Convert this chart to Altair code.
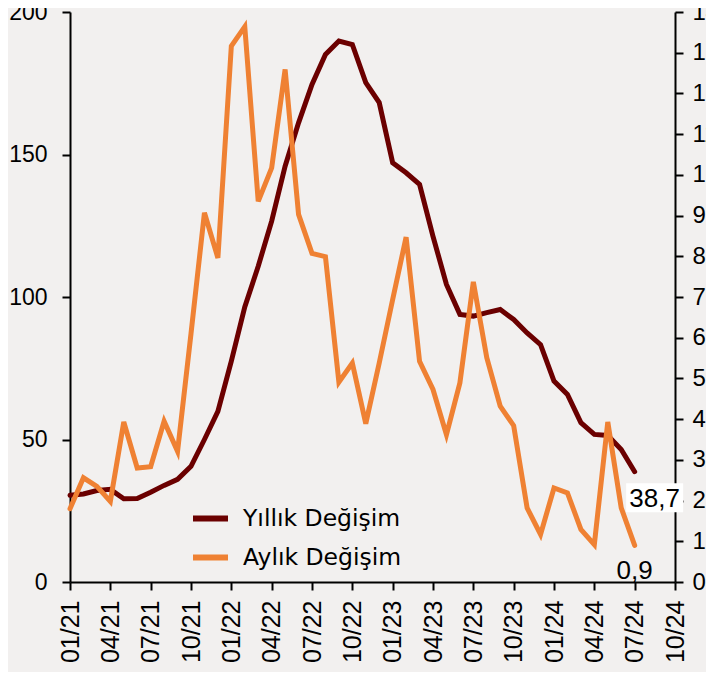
import json
import altair as alt
import pandas as pd

# ---- data ----
months = [
    "01/21", "02/21", "03/21", "04/21", "05/21", "06/21", "07/21", "08/21", "09/21", "10/21", "11/21", "12/21",
    "01/22", "02/22", "03/22", "04/22", "05/22", "06/22", "07/22", "08/22", "09/22", "10/22", "11/22", "12/22",
    "01/23", "02/23", "03/23", "04/23", "05/23", "06/23", "07/23", "08/23", "09/23", "10/23", "11/23", "12/23",
    "01/24", "02/24", "03/24", "04/24", "05/24", "06/24", "07/24",
]
annual = [30.4, 30.9, 32.1, 32.5, 29.2, 29.3, 31.5, 33.9, 36.0, 40.6, 50.0, 59.9,
          77.5, 96.5, 110.8, 126.6, 145.9, 161.1, 174.6, 185.1, 189.8, 188.6, 175.2, 168.2,
          147.1, 143.6, 139.5, 121.3, 104.4, 93.9, 93.3, 94.5, 95.6, 92.1, 87.4, 83.3,
          70.5, 65.8, 55.9, 51.8, 51.4, 46.5, 38.7]
monthly = [1.80, 2.56, 2.35, 1.98, 3.93, 2.80, 2.83, 3.95, 3.21, 6.10, 9.07, 7.96,
           13.16, 13.64, 9.35, 10.17, 12.59, 9.03, 8.07, 7.99, 4.91, 5.38, 3.89, 5.38,
           6.94, 8.47, 5.42, 4.73, 3.62, 4.89, 7.37, 5.51, 4.32, 3.84, 1.82, 1.17,
           2.31, 2.19, 1.29, 0.92, 3.93, 1.82, 0.90]
tick_labels = ["01/21", "04/21", "07/21", "10/21", "01/22", "04/22", "07/22", "10/22",
               "01/23", "04/23", "07/23", "10/23", "01/24", "04/24", "07/24", "10/24"]
series_names = ["Yıllık Değişim", "Aylık Değişim"]
series_colors = ["#6B0000", "#EF8133"]
left_ticks = [0, 50, 100, 150, 200]
right_ticks = list(range(0, 15))

AXIS_FONT = "Liberation Sans"
LEGEND_FONT = "DejaVu Sans"

rows = []
for i, m in enumerate(months):
    rows.append({"idx": i, "month": m, "series": series_names[0], "value": annual[i]})
    rows.append({"idx": i, "month": m, "series": series_names[1], "value": monthly[i]})
df = pd.DataFrame(rows)

last_df = pd.DataFrame([
    {"idx": len(months) - 1, "series": series_names[0], "value": annual[-1],
     "label": f"{annual[-1]}".replace(".", ",")},
    {"idx": len(months) - 1, "series": series_names[1], "value": monthly[-1],
     "label": f"{monthly[-1]}".replace(".", ",")},
])

n_ticks = len(tick_labels)
x_enc = alt.X(
    "idx:Q",
    scale=alt.Scale(domain=[0, (n_ticks - 1) * 3], nice=False, zero=False),
    axis=alt.Axis(
        values=[k * 3 for k in range(n_ticks)],
        labelExpr=json.dumps(tick_labels) + "[round(datum.value / 3)]",
        labelAngle=-90, labelFontSize=25, labelPadding=10, title=None,
        tickSize=8, labelBound=False, labelOverlap=False, labelFlush=False,
    ),
)

y_left = alt.Y(
    "value:Q",
    scale=alt.Scale(domain=[0, 200], nice=False),
    axis=alt.Axis(orient="left", values=left_ticks, title=None, tickSize=8,
                  labelPadding=15, labelFontSize=23),
)
y_right = alt.Y(
    "value:Q",
    scale=alt.Scale(domain=[0, 14], nice=False),
    axis=alt.Axis(orient="right", values=right_ticks, title=None, tickSize=8,
                  labelPadding=9, labelFontSize=24),
)

color_enc = alt.Color(
    "series:N",
    scale=alt.Scale(domain=series_names, range=series_colors),
    legend=alt.Legend(
        orient="none", legendX=120, legendY=486, title=None,
        symbolType="stroke", symbolStrokeWidth=6, symbolSize=1225,
        labelFont=LEGEND_FONT, labelFontSize=23.5, labelOffset=12, rowPadding=6,
        labelColor="black", symbolOpacity=1, labelLimit=400,
    ),
)

line_annual = alt.Chart(df).transform_filter(
    alt.datum.series == series_names[0]
).mark_line(strokeWidth=5, strokeCap="round").encode(x=x_enc, y=y_left, color=color_enc)

box_annual = alt.Chart(last_df).transform_filter(
    alt.datum.series == series_names[0]
).mark_point(
    shape="M-1,-0.51L1,-0.51L1,0.51L-1,0.51Z", filled=True, fill="white",
    opacity=1, strokeWidth=0, size=57 * 57, xOffset=20, yOffset=26,
).encode(x=x_enc, y=y_left)

text_annual = alt.Chart(last_df).transform_filter(
    alt.datum.series == series_names[0]
).mark_text(font=AXIS_FONT, fontSize=26, color="black", dx=20, dy=27,
            align="center", baseline="middle").encode(x=x_enc, y=y_left, text="label:N")

line_monthly = alt.Chart(df).transform_filter(
    alt.datum.series == series_names[1]
).mark_line(strokeWidth=5, strokeCap="round").encode(x=x_enc, y=y_right, color=color_enc)

text_monthly = alt.Chart(last_df).transform_filter(
    alt.datum.series == series_names[1]
).mark_text(font=AXIS_FONT, fontSize=26, color="black", dx=0, dy=26,
            align="center", baseline="middle").encode(x=x_enc, y=y_right, text="label:N")

left = alt.layer(line_annual, box_annual, text_annual)
right = alt.layer(line_monthly, text_monthly)

chart = alt.layer(left, right).resolve_scale(y="independent").properties(
    width=605, height=570,
    autosize=alt.AutoSizeParams(type="none"),
    padding={"left": 62, "top": 4, "right": 31, "bottom": 90},
    background="#F2F0EF",
).configure_view(stroke=None).configure_axis(
    labelFont=AXIS_FONT, labelColor="black", domainColor="black", domainWidth=2,
    tickColor="black", tickWidth=2, grid=False,
)

chart.save("out.html", embed_options={"renderer": "svg", "actions": False})
